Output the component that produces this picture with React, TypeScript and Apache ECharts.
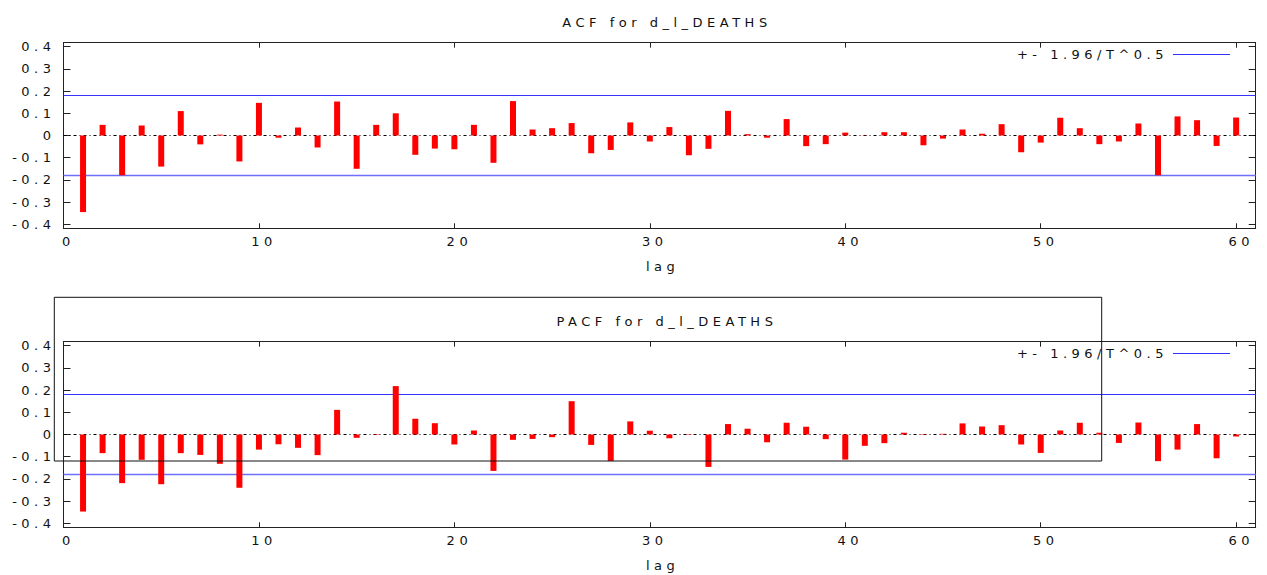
import React, { useEffect, useRef } from "react";
import * as echarts from "echarts";

const lags = [
  1, 2, 3, 4, 5, 6, 7, 8, 9, 10, 11, 12, 13, 14, 15, 16, 17, 18, 19, 20,
  21, 22, 23, 24, 25, 26, 27, 28, 29, 30, 31, 32, 33, 34, 35, 36, 37, 38, 39, 40,
  41, 42, 43, 44, 45, 46, 47, 48, 49, 50, 51, 52, 53, 54, 55, 56, 57, 58, 59, 60,
];

const acfValues = [
  -0.345, 0.048, -0.179, 0.045, -0.14, 0.11, -0.04, 0.004, -0.117, 0.147,
  -0.01, 0.036, -0.054, 0.153, -0.15, 0.048, 0.1, -0.087, -0.059, -0.062,
  0.048, -0.123, 0.155, 0.027, 0.033, 0.056, -0.08, -0.065, 0.059, -0.027,
  0.038, -0.089, -0.06, 0.111, 0.006, -0.01, 0.074, -0.048, -0.039, 0.013,
  0.001, 0.015, 0.015, -0.044, -0.014, 0.027, 0.008, 0.051, -0.075, -0.032,
  0.08, 0.033, -0.039, -0.027, 0.054, -0.179, 0.086, 0.069, -0.047, 0.081,
];

const pacfValues = [
  -0.347, -0.084, -0.219, -0.114, -0.224, -0.084, -0.092, -0.132, -0.24, -0.068,
  -0.044, -0.06, -0.093, 0.111, -0.015, -0.002, 0.218, 0.071, 0.051, -0.045,
  0.018, -0.164, -0.024, -0.02, -0.012, 0.15, -0.047, -0.119, 0.059, 0.017,
  -0.017, 0.002, -0.146, 0.047, 0.026, -0.035, 0.053, 0.035, -0.021, -0.113,
  -0.051, -0.039, 0.008, 0.002, 0.003, 0.05, 0.036, 0.042, -0.045, -0.083,
  0.018, 0.053, 0.008, -0.038, 0.054, -0.12, -0.068, 0.047, -0.107, -0.009,
];

const bandValue = 0.1802;
const yTicks = [-0.4, -0.3, -0.2, -0.1, 0, 0.1, 0.2, 0.3, 0.4];
const xTicks = [0, 10, 20, 30, 40, 50, 60];
const xRange = [0, 61];
const yRange = [-0.418, 0.418];
const titles = ["ACF for d_l_DEATHS", "PACF for d_l_DEATHS"];
const legendLabel = "+- 1.96/T^0.5";
const xName = "lag";

const FONT = "DejaVu Sans";
const TEXT_COLOR = "#111";
const AXIS_COLOR = "#222";

export default function App() {
  const ref = useRef<HTMLDivElement>(null);

  useEffect(() => {
    if (!ref.current) return;
    const chart = echarts.init(ref.current, null, { renderer: "svg" });

    const panels = [
      { values: acfValues, gridTop: 42.7, titleTop: 11, legendTop: 43 },
      { values: pacfValues, gridTop: 341.7, titleTop: 310, legendTop: 342 },
    ];
    const gridH = 185.6;
    const textStyle = { fontFamily: FONT, fontSize: 13, color: TEXT_COLOR };
    const axisLineStyle = { color: AXIS_COLOR, width: 1 };

    const grid: any[] = [];
    const xAxis: any[] = [];
    const yAxis: any[] = [];
    const series: any[] = [];
    const title: any[] = [];
    const legend: any[] = [];

    panels.forEach((p, g) => {
      grid.push({ left: 63.5, right: 11.3, top: p.gridTop, height: gridH, show: false });
      title.push({
        text: titles[g],
        left: 662,
        top: p.titleTop,
        textAlign: "center",
        textStyle: { ...textStyle, fontWeight: "normal" },
      });
      legend.push({
        data: [legendLabel],
        right: 32,
        top: p.legendTop,
        align: "right",
        icon: "rect",
        itemWidth: 57,
        itemHeight: 1,
        selectedMode: false,
        textStyle: { ...textStyle },
      });
      xAxis.push({
        type: "value",
        gridIndex: g,
        position: "bottom",
        min: xRange[0],
        max: xRange[1],
        name: xName,
        nameLocation: "middle",
        nameGap: 32,
        nameTextStyle: { ...textStyle, padding: [0, 0, 0, 6] },
        axisLine: { show: true, onZero: false, lineStyle: axisLineStyle },
        axisTick: { show: true, inside: true, length: 5, customValues: xTicks, lineStyle: axisLineStyle },
        axisLabel: { customValues: xTicks, margin: 7, ...textStyle, padding: [0, 0, 0, 10] },
        splitLine: { show: false },
      });
      xAxis.push({
        type: "value",
        gridIndex: g,
        position: "top",
        min: xRange[0],
        max: xRange[1],
        axisLine: { show: true, onZero: false, lineStyle: axisLineStyle },
        axisTick: { show: true, inside: true, length: 5, customValues: xTicks, lineStyle: axisLineStyle },
        axisLabel: { show: false },
        splitLine: { show: false },
      });
      yAxis.push({
        type: "value",
        gridIndex: g,
        position: "left",
        min: yRange[0],
        max: yRange[1],
        axisLine: { show: true, onZero: false, lineStyle: axisLineStyle },
        axisTick: { show: true, inside: true, length: 7, customValues: yTicks, lineStyle: axisLineStyle },
        axisLabel: {
          customValues: yTicks,
          margin: 8,
          ...textStyle,
          formatter: (v: number) => (Math.abs(v) < 1e-9 ? "0" : v.toFixed(1)),
        },
        splitLine: { show: false },
      });
      yAxis.push({
        type: "value",
        gridIndex: g,
        position: "right",
        min: yRange[0],
        max: yRange[1],
        axisLine: { show: true, onZero: false, lineStyle: axisLineStyle },
        axisTick: { show: true, inside: true, length: 7, customValues: yTicks, lineStyle: axisLineStyle },
        axisLabel: { show: false },
        splitLine: { show: false },
      });

      const xi = 2 * g;
      const yi = 2 * g;
      series.push({
        type: "line",
        xAxisIndex: xi,
        yAxisIndex: yi,
        data: [[xRange[0], 0], [xRange[1], 0]],
        symbol: "none",
        silent: true,
        z: 1,
        lineStyle: { color: "#000", width: 1, type: [3, 3, 1, 3] },
      });
      series.push({
        type: "bar",
        xAxisIndex: xi,
        yAxisIndex: yi,
        data: lags.map((l, i) => [l, p.values[i]]),
        barWidth: 6,
        itemStyle: { color: "#ff0000" },
        z: 3,
      });
      series.push({
        type: "line",
        name: legendLabel,
        xAxisIndex: xi,
        yAxisIndex: yi,
        data: [[xRange[0], bandValue], [xRange[1], bandValue]],
        symbol: "none",
        z: 2,
        lineStyle: { color: "#3333ff", width: 1 },
        itemStyle: { color: "#3333ff" },
      });
      series.push({
        type: "line",
        name: legendLabel,
        xAxisIndex: xi,
        yAxisIndex: yi,
        data: [[xRange[0], -bandValue], [xRange[1], -bandValue]],
        symbol: "none",
        z: 2,
        lineStyle: { color: "#6f6fff", width: 1.4 },
        itemStyle: { color: "#6f6fff" },
      });
    });

    chart.setOption({
      animation: false,
      backgroundColor: "#fff",
      title,
      legend,
      grid,
      xAxis,
      yAxis,
      series,
      graphic: [
        {
          type: "rect",
          z: 100,
          silent: true,
          shape: { x: 54.3, y: 297.3, width: 1047.4, height: 163.7 },
          style: { fill: "none", stroke: "#111", lineWidth: 1 },
        },
      ],
    });

    return () => chart.dispose();
  }, []);

  return (
    <>
      <style>{`#acf-chart svg text { letter-spacing: 4.5px; }`}</style>
      <div
        id="acf-chart"
        ref={ref}
        style={{ position: "absolute", left: 0, top: 0, width: 1267, height: 575 }}
      />
    </>
  );
}
